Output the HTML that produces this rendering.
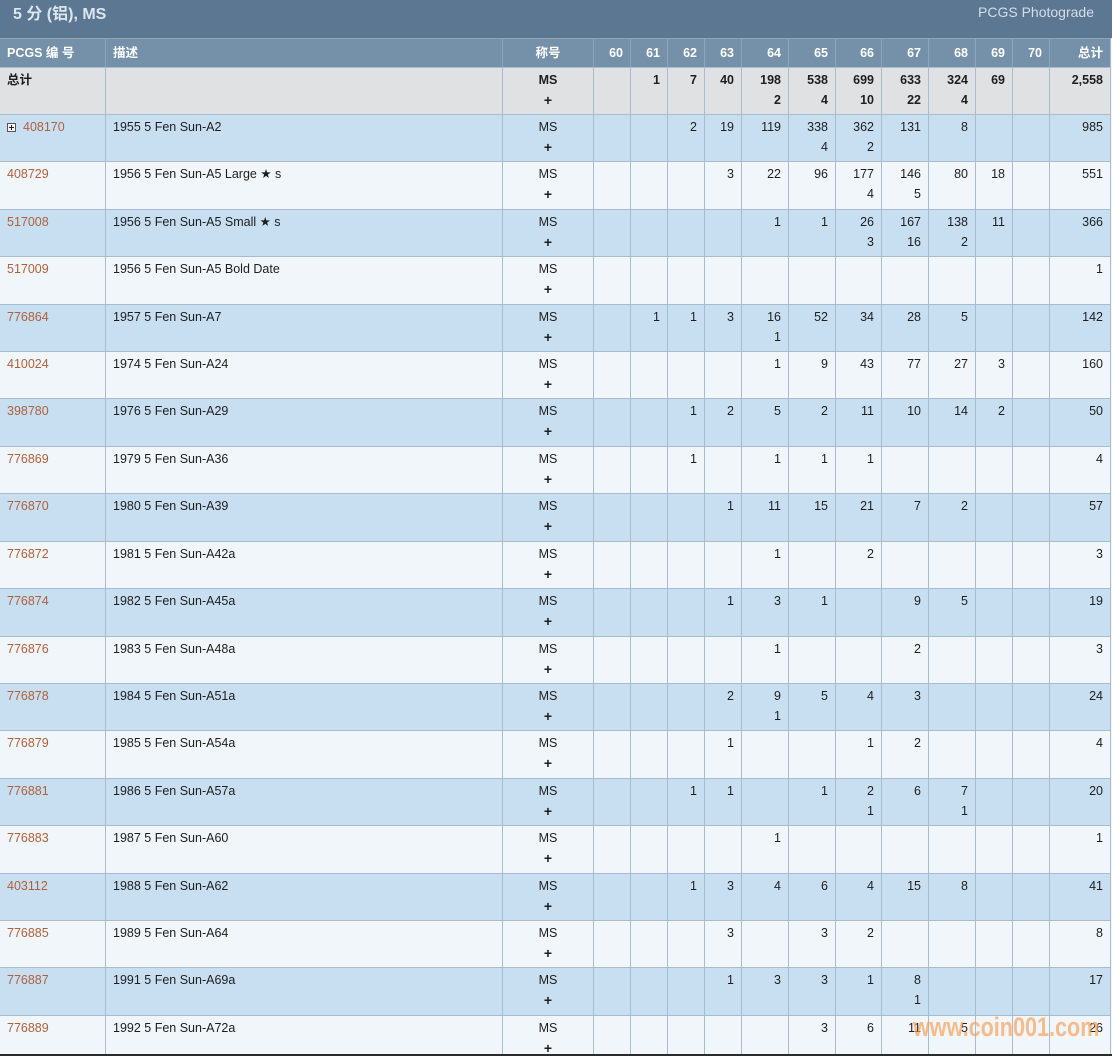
<!DOCTYPE html>
<html><head><meta charset="utf-8">
<style>
*{margin:0;padding:0;box-sizing:border-box}
html,body{width:1112px;height:1056px;overflow:hidden;background:#f1f6fa}
body{position:relative;font-family:"Liberation Sans","DejaVu Sans","Noto Sans CJK SC",sans-serif;font-size:12.5px;color:#1e1e1e}
.title{position:absolute;left:0;top:0;width:1112px;height:38px;background:#5c7791}
.title .t{position:absolute;left:13px;top:5px;font-size:16px;font-weight:bold;color:#dce6ef;line-height:20px;font-family:"Liberation Sans","Noto Sans CJK SC",sans-serif}
.title .p{position:absolute;right:18px;top:2px;font-size:14px;color:#d3dee9;line-height:20px}
.r{position:absolute;left:0;width:1111px;display:grid;grid-template-columns:105px 397px 91px 37px 37px 37px 37px 47px 47px 46px 47px 47px 37px 37px 62px;border-top:1px solid #a9bccf}
.r>div{border-left:1px solid #a9bccf;padding:2px 7px 0;line-height:20px;text-align:right;white-space:nowrap;overflow:hidden}
.r>div:first-child{border-left:none;text-align:left}
.r>div:nth-child(2){text-align:left}
.r>div:nth-child(3){text-align:center;padding:2px 0 0}
.r>div:last-child{border-right:1px solid #a9bccf}
.h{top:38px;height:29px;background:#7591aa;border-top:1px solid #8ea5bb;color:#fff;font-weight:bold}
.h>div{border-left-color:#8ea5bb !important;padding-top:4px !important}
.tot{top:67px;height:47px;background:#e0e1e2;font-weight:bold}
.b{background:#c8dff2}
.w{background:#f1f6fa}
.r>div:first-child a{color:#b0613c;text-decoration:none}
.pl{font-weight:bold;font-size:14px}
.ic{display:inline-block;width:9px;height:9px;border:1px solid #555;position:relative;vertical-align:-1px;margin-right:7px;background:#f4f4f4}
.ic:before{content:"";position:absolute;left:1px;top:3px;width:5px;height:1px;background:#222}
.ic:after{content:"";position:absolute;left:3px;top:1px;width:1px;height:5px;background:#222}
.wm{position:absolute;left:913px;top:1011px;font-size:27px;font-weight:bold;color:rgba(247,163,90,0.7);font-family:"Liberation Sans",sans-serif;transform:scaleX(0.80);transform-origin:0 0;line-height:32px;white-space:nowrap}
.bot{position:absolute;left:0;top:1054px;width:1112px;height:2px;background:#2b2b2b}
</style></head><body>
<div class="title"><div class="t">5 分 (铝), MS</div><div class="p">PCGS Photograde</div></div>

<div class="r h"><div>PCGS 编 号</div><div>描述</div><div>称号</div><div>60</div><div>61</div><div>62</div><div>63</div><div>64</div><div>65</div><div>66</div><div>67</div><div>68</div><div>69</div><div>70</div><div>总计</div></div>

<div class="r tot"><div>总计</div><div></div><div>MS<br><span class="pl">+</span></div><div></div><div>1</div><div>7</div><div>40</div><div>198<br>2</div><div>538<br>4</div><div>699<br>10</div><div>633<br>22</div><div>324<br>4</div><div>69</div><div></div><div>2,558</div></div>

<div class="r b" style="top:114px;height:47px"><div><span class="ic"></span><a>408170</a></div><div>1955 5 Fen Sun-A2</div><div>MS<br><span class="pl">+</span></div><div></div><div></div><div>2</div><div>19</div><div>119</div><div>338<br>4</div><div>362<br>2</div><div>131</div><div>8</div><div></div><div></div><div>985</div></div>

<div class="r w" style="top:161px;height:48px"><div><a>408729</a></div><div>1956 5 Fen Sun-A5 Large ★ s</div><div>MS<br><span class="pl">+</span></div><div></div><div></div><div></div><div>3</div><div>22</div><div>96</div><div>177<br>4</div><div>146<br>5</div><div>80</div><div>18</div><div></div><div>551</div></div>

<div class="r b" style="top:209px;height:47px"><div><a>517008</a></div><div>1956 5 Fen Sun-A5 Small ★ s</div><div>MS<br><span class="pl">+</span></div><div></div><div></div><div></div><div></div><div>1</div><div>1</div><div>26<br>3</div><div>167<br>16</div><div>138<br>2</div><div>11</div><div></div><div>366</div></div>

<div class="r w" style="top:256px;height:48px"><div><a>517009</a></div><div>1956 5 Fen Sun-A5 Bold Date</div><div>MS<br><span class="pl">+</span></div><div></div><div></div><div></div><div></div><div></div><div></div><div></div><div></div><div></div><div></div><div></div><div>1</div></div>

<div class="r b" style="top:304px;height:47px"><div><a>776864</a></div><div>1957 5 Fen Sun-A7</div><div>MS<br><span class="pl">+</span></div><div></div><div>1</div><div>1</div><div>3</div><div>16<br>1</div><div>52</div><div>34</div><div>28</div><div>5</div><div></div><div></div><div>142</div></div>

<div class="r w" style="top:351px;height:47px"><div><a>410024</a></div><div>1974 5 Fen Sun-A24</div><div>MS<br><span class="pl">+</span></div><div></div><div></div><div></div><div></div><div>1</div><div>9</div><div>43</div><div>77</div><div>27</div><div>3</div><div></div><div>160</div></div>

<div class="r b" style="top:398px;height:48px"><div><a>398780</a></div><div>1976 5 Fen Sun-A29</div><div>MS<br><span class="pl">+</span></div><div></div><div></div><div>1</div><div>2</div><div>5</div><div>2</div><div>11</div><div>10</div><div>14</div><div>2</div><div></div><div>50</div></div>

<div class="r w" style="top:446px;height:47px"><div><a>776869</a></div><div>1979 5 Fen Sun-A36</div><div>MS<br><span class="pl">+</span></div><div></div><div></div><div>1</div><div></div><div>1</div><div>1</div><div>1</div><div></div><div></div><div></div><div></div><div>4</div></div>

<div class="r b" style="top:493px;height:48px"><div><a>776870</a></div><div>1980 5 Fen Sun-A39</div><div>MS<br><span class="pl">+</span></div><div></div><div></div><div></div><div>1</div><div>11</div><div>15</div><div>21</div><div>7</div><div>2</div><div></div><div></div><div>57</div></div>

<div class="r w" style="top:541px;height:47px"><div><a>776872</a></div><div>1981 5 Fen Sun-A42a</div><div>MS<br><span class="pl">+</span></div><div></div><div></div><div></div><div></div><div>1</div><div></div><div>2</div><div></div><div></div><div></div><div></div><div>3</div></div>

<div class="r b" style="top:588px;height:48px"><div><a>776874</a></div><div>1982 5 Fen Sun-A45a</div><div>MS<br><span class="pl">+</span></div><div></div><div></div><div></div><div>1</div><div>3</div><div>1</div><div></div><div>9</div><div>5</div><div></div><div></div><div>19</div></div>

<div class="r w" style="top:636px;height:47px"><div><a>776876</a></div><div>1983 5 Fen Sun-A48a</div><div>MS<br><span class="pl">+</span></div><div></div><div></div><div></div><div></div><div>1</div><div></div><div></div><div>2</div><div></div><div></div><div></div><div>3</div></div>

<div class="r b" style="top:683px;height:47px"><div><a>776878</a></div><div>1984 5 Fen Sun-A51a</div><div>MS<br><span class="pl">+</span></div><div></div><div></div><div></div><div>2</div><div>9<br>1</div><div>5</div><div>4</div><div>3</div><div></div><div></div><div></div><div>24</div></div>

<div class="r w" style="top:730px;height:48px"><div><a>776879</a></div><div>1985 5 Fen Sun-A54a</div><div>MS<br><span class="pl">+</span></div><div></div><div></div><div></div><div>1</div><div></div><div></div><div>1</div><div>2</div><div></div><div></div><div></div><div>4</div></div>

<div class="r b" style="top:778px;height:47px"><div><a>776881</a></div><div>1986 5 Fen Sun-A57a</div><div>MS<br><span class="pl">+</span></div><div></div><div></div><div>1</div><div>1</div><div></div><div>1</div><div>2<br>1</div><div>6</div><div>7<br>1</div><div></div><div></div><div>20</div></div>

<div class="r w" style="top:825px;height:48px"><div><a>776883</a></div><div>1987 5 Fen Sun-A60</div><div>MS<br><span class="pl">+</span></div><div></div><div></div><div></div><div></div><div>1</div><div></div><div></div><div></div><div></div><div></div><div></div><div>1</div></div>

<div class="r b" style="top:873px;height:47px"><div><a>403112</a></div><div>1988 5 Fen Sun-A62</div><div>MS<br><span class="pl">+</span></div><div></div><div></div><div>1</div><div>3</div><div>4</div><div>6</div><div>4</div><div>15</div><div>8</div><div></div><div></div><div>41</div></div>

<div class="r w" style="top:920px;height:47px"><div><a>776885</a></div><div>1989 5 Fen Sun-A64</div><div>MS<br><span class="pl">+</span></div><div></div><div></div><div></div><div>3</div><div></div><div>3</div><div>2</div><div></div><div></div><div></div><div></div><div>8</div></div>

<div class="r b" style="top:967px;height:48px"><div><a>776887</a></div><div>1991 5 Fen Sun-A69a</div><div>MS<br><span class="pl">+</span></div><div></div><div></div><div></div><div>1</div><div>3</div><div>3</div><div>1</div><div>8<br>1</div><div></div><div></div><div></div><div>17</div></div>

<div class="r w" style="top:1015px;height:41px"><div><a>776889</a></div><div>1992 5 Fen Sun-A72a</div><div>MS<br><span class="pl">+</span></div><div></div><div></div><div></div><div></div><div></div><div>3</div><div>6</div><div>11</div><div>5</div><div></div><div></div><div>26</div></div>

<div class="wm">www.coin001.com</div>
<div class="bot"></div>
</body></html>
